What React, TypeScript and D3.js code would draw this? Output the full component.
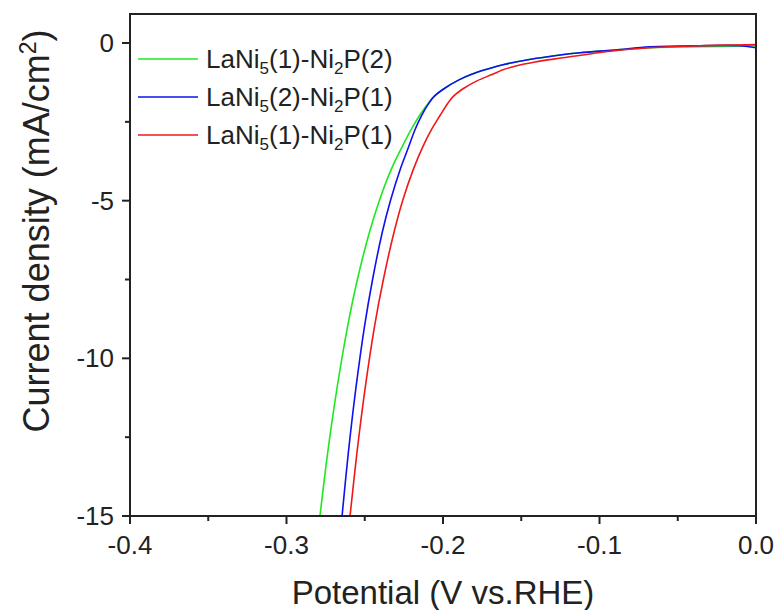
import React from 'react';
import * as d3 from 'd3';

const seriesNames = ['LaNi5(1)-Ni2P(2)', 'LaNi5(2)-Ni2P(1)', 'LaNi5(1)-Ni2P(1)'];
const seriesColors = ['#1fe81f', '#1010f0', '#f01818'];

const greenV = [-0.2786, -0.2737, -0.2679, -0.261, -0.2547, -0.247, -0.2407, -0.233, -0.2262, -0.2204, -0.215, -0.2093, -0.2058, -0.1994, -0.1898, -0.1821, -0.1732, -0.161, -0.1457, -0.1252, -0.1125, -0.0901, -0.0677, -0.0358, 0.0];
const greenJ = [-15, -13, -11, -9, -7.5, -6, -5, -4, -3.3, -2.75, -2.3, -1.9, -1.7, -1.45, -1.17, -1.0, -0.85, -0.68, -0.53, -0.38, -0.31, -0.22, -0.15, -0.12, -0.085];

const blueV = [-0.2645, -0.2605, -0.2558, -0.2502, -0.245, -0.2388, -0.2336, -0.2273, -0.222, -0.2179, -0.2137, -0.2089, -0.2058, -0.1994, -0.1898, -0.1821, -0.1732, -0.161, -0.1457, -0.1252, -0.1125, -0.0901, -0.0677, -0.0358, -0.0102, 0.0];
const blueJ = [-15, -13, -11, -9, -7.5, -6, -5, -4, -3.3, -2.75, -2.3, -1.9, -1.7, -1.45, -1.17, -1.0, -0.85, -0.68, -0.53, -0.38, -0.31, -0.22, -0.12, -0.085, -0.085, -0.15];

const redV = [-0.2594, -0.255, -0.2499, -0.2438, -0.2381, -0.2313, -0.2258, -0.2189, -0.213, -0.2074, -0.2019, -0.1968, -0.1936, -0.1872, -0.1783, -0.1687, -0.1617, -0.1553, -0.1412, -0.1233, -0.0933, -0.0677, -0.0358, 0.0];
const redJ = [-15, -13, -11, -9, -7.5, -6, -5, -4, -3.3, -2.75, -2.3, -1.9, -1.7, -1.45, -1.2, -1.0, -0.85, -0.75, -0.6, -0.47, -0.26, -0.15, -0.085, -0.05];

const xMajor = [-0.4, -0.3, -0.2, -0.1, 0.0];
const xMajorLabels = ['-0.4', '-0.3', '-0.2', '-0.1', '0.0'];
const xMinor = [-0.35, -0.25, -0.15, -0.05];
const yMajor = [0, -5, -10, -15];
const yMajorLabels = ['0', '-5', '-10', '-15'];
const yMinor = [-2.5, -7.5, -12.5];

const W = 777;
const H = 610;
const L = 130, R = 756, T = 14, B = 516;
const FONT = '"Liberation Sans", Arial, sans-serif';

export default function App() {
  const x = d3.scaleLinear().domain([-0.4, 0.0]).range([L, R]);
  const y = d3.scaleLinear().domain([-15, 0.92]).range([B, T]);
  const line = d3
    .line<[number, number]>()
    .x((d) => x(d[0]))
    .y((d) => y(d[1]))
    .curve(d3.curveCatmullRom.alpha(0.5));

  const series = [
    { v: greenV, j: greenJ, c: seriesColors[0] },
    { v: blueV, j: blueJ, c: seriesColors[1] },
    { v: redV, j: redJ, c: seriesColors[2] },
  ];

  const legendRows = [59, 97, 135];

  return (
    <svg width={W} height={H} style={{ position: 'absolute', left: 0, top: 0, background: '#fff' }} fontFamily={FONT}>
      <rect x={0} y={0} width={W} height={H} fill="#fff" />
      <defs>
        <clipPath id="plotclip">
          <rect x={L} y={T} width={R - L} height={B - T} />
        </clipPath>
      </defs>
      <g clipPath="url(#plotclip)">
        {series.map((s, i) => (
          <path
            key={i}
            d={line(s.v.map((v, k) => [v, s.j[k]] as [number, number])) || ''}
            fill="none"
            stroke={s.c}
            strokeWidth={1.6}
          />
        ))}
      </g>
      {/* frame */}
      <rect x={L} y={T} width={R - L} height={B - T} fill="none" stroke="#222" strokeWidth={2} />
      {/* x ticks */}
      {xMajor.map((t, i) => (
        <g key={'xm' + i}>
          <line x1={x(t)} x2={x(t)} y1={B} y2={B + 8} stroke="#222" strokeWidth={2} />
          <text x={x(t)} y={554} textAnchor="middle" fontSize={26} fill="#222">
            {xMajorLabels[i]}
          </text>
        </g>
      ))}
      {xMinor.map((t, i) => (
        <line key={'xn' + i} x1={x(t)} x2={x(t)} y1={B} y2={B + 5} stroke="#222" strokeWidth={2} />
      ))}
      {yMajor.map((t, i) => (
        <g key={'ym' + i}>
          <line x1={L - 8} x2={L} y1={y(t)} y2={y(t)} stroke="#222" strokeWidth={2} />
          <text x={114} y={y(t) + 9} textAnchor="end" fontSize={26} fill="#222">
            {yMajorLabels[i]}
          </text>
        </g>
      ))}
      {yMinor.map((t, i) => (
        <line key={'yn' + i} x1={L - 5} x2={L} y1={y(t)} y2={y(t)} stroke="#222" strokeWidth={2} />
      ))}
      {/* axis titles */}
      <text x={443} y={604} textAnchor="middle" fontSize={33} fill="#222">
        Potential (V vs.RHE)
      </text>
      <text transform="translate(49,231) rotate(-90)" textAnchor="middle" fontSize={36} fill="#222">
        Current density (mA/cm<tspan dy={-13} fontSize={23}>2</tspan>
        <tspan dy={13}>)</tspan>
      </text>
      {/* legend */}
      {legendRows.map((ly, i) => {
        const name = seriesNames[i];
        const m = name.match(/^LaNi(\d)\((\d)\)-Ni(\d)P\((\d)\)$/)!;
        return (
          <g key={'lg' + i}>
            <line x1={138} x2={198} y1={ly} y2={ly} stroke={seriesColors[i]} strokeWidth={1.6} />
            <text x={206} y={ly + 9} fontSize={26} fill="#222">
              LaNi<tspan dy={6} fontSize={17}>{m[1]}</tspan>
              <tspan dy={-6}>({m[2]})-Ni</tspan>
              <tspan dy={6} fontSize={17}>{m[3]}</tspan>
              <tspan dy={-6}>P({m[4]})</tspan>
            </text>
          </g>
        );
      })}
    </svg>
  );
}
